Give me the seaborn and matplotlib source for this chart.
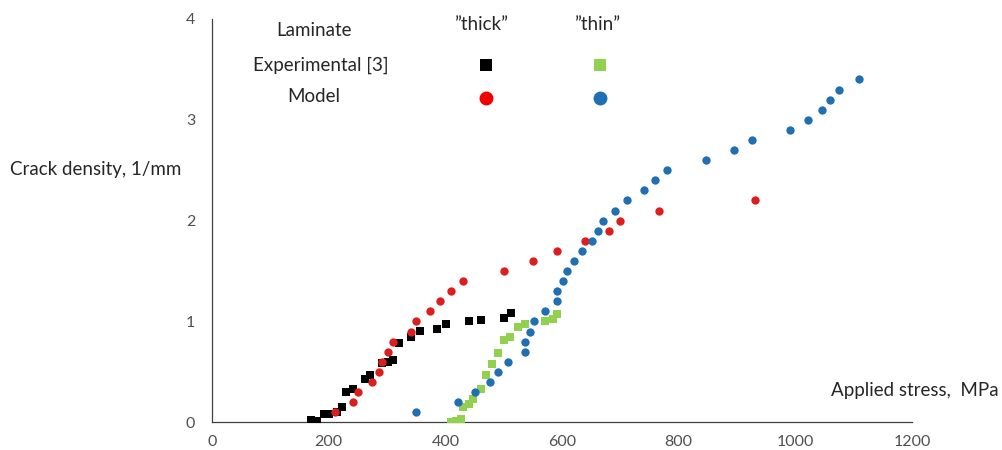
import pandas as pd
import matplotlib.pyplot as plt
import seaborn as sns
from matplotlib.lines import Line2D

# Experimental data, "thick" laminate
exp_thick_stress = [170, 180, 192, 201, 214, 222, 230, 242, 262, 271, 291, 302, 311,
                    321, 341, 356, 386, 401, 441, 461, 501, 512]
exp_thick_density = [0.02, 0.01, 0.08, 0.08, 0.10, 0.15, 0.30, 0.33, 0.43, 0.47, 0.59,
                     0.60, 0.62, 0.79, 0.85, 0.91, 0.93, 0.98, 1.00, 1.01, 1.03, 1.08]

# Experimental data, "thin" laminate
exp_thin_stress = [410, 418, 426, 431, 441, 447, 461, 470, 480, 490, 501, 511, 525,
                   536, 571, 585, 591]
exp_thin_density = [0.00, 0.01, 0.03, 0.15, 0.18, 0.23, 0.33, 0.47, 0.58, 0.69, 0.82,
                    0.85, 0.95, 0.98, 1.00, 1.02, 1.07]

# Model, "thick" laminate
model_thick_stress = [210, 242, 251, 275, 286, 291, 302, 311, 341, 350, 374, 390, 410,
                      430, 500, 551, 591, 640, 680, 699, 766, 930]
model_thick_density = [0.1, 0.2, 0.3, 0.4, 0.5, 0.6, 0.7, 0.8, 0.9, 1.0, 1.1, 1.2, 1.3,
                       1.4, 1.5, 1.6, 1.7, 1.8, 1.9, 2.0, 2.1, 2.2]

# Model, "thin" laminate
model_thin_stress = [350, 421, 450, 476, 490, 508, 536, 537, 545, 552, 571, 591, 591,
                     601, 608, 621, 635, 651, 661, 671, 691, 711, 740, 760, 780, 846,
                     895, 926, 990, 1021, 1045, 1060, 1075, 1109]
model_thin_density = [0.1, 0.2, 0.3, 0.4, 0.5, 0.6, 0.7, 0.8, 0.9, 1.0, 1.1, 1.2, 1.3,
                      1.4, 1.5, 1.6, 1.7, 1.8, 1.9, 2.0, 2.1, 2.2, 2.3, 2.4, 2.5, 2.6,
                      2.7, 2.8, 2.9, 3.0, 3.1, 3.2, 3.3, 3.4]

x_ticks = [0, 200, 400, 600, 800, 1000, 1200]
y_ticks = [0, 1, 2, 3, 4]

sns.set_style('white')
plt.rcParams['font.family'] = ['Lato', 'DejaVu Sans']

fig = plt.figure(figsize=(10.03, 4.5), dpi=100)
ax = fig.add_axes([0.2114, 0.0615, 0.6979, 0.8963])

black = '#000000'
green = '#92d050'
red = '#dc1e1e'
blue = '#1f6fb2'

series = [
    (exp_thick_stress, exp_thick_density, black, 's'),
    (exp_thin_stress, exp_thin_density, green, 's'),
    (model_thick_stress, model_thick_density, red, 'o'),
    (model_thin_stress, model_thin_density, blue, 'o'),
]
for xs, ys, col, mk in series:
    df = pd.DataFrame({'stress': xs, 'density': ys})
    sns.scatterplot(data=df, x='stress', y='density', color=col, marker=mk,
                    s=36, linewidth=0, ax=ax, zorder=3)

ax.set_xlim(0, 1200)
ax.set_ylim(0, 4)
ax.set_xticks(x_ticks)
ax.set_yticks(y_ticks)
for side in ['top', 'right']:
    ax.spines[side].set_visible(False)
for side in ['left', 'bottom']:
    ax.spines[side].set_color('#404040')
    ax.spines[side].set_linewidth(0.9)
ax.tick_params(direction='in', length=3, width=0.8, color='#595959',
               labelcolor='#505050', labelsize=11.5, pad=9)
ax.tick_params(axis='y', pad=12)

ax.set_ylabel('Crack density, 1/mm', rotation=0, ha='left', va='center',
              fontsize=13.5, color='#262626')
ax.yaxis.set_label_coords(-0.2886, 0.628)
ax.set_xlabel('Applied stress,  MPa', ha='right', va='center',
              fontsize=13.5, color='#262626')
ax.xaxis.set_label_coords(1.123, 0.078)

# table-style legend at the top
W, H = 1003, 450
def fx(px):
    return px / W
def fy(py):
    return 1 - py / H

txt = dict(fontsize=13.5, color='#262626', ha='center', va='center')
fig.text(fx(314), fy(30), 'Laminate', **txt)
fig.text(fx(321), fy(65), 'Experimental [3]', **txt)
fig.text(fx(314), fy(97), 'Model', **txt)
fig.text(fx(481), fy(24), '\u201dthick\u201d', **txt)
fig.text(fx(597), fy(24), '\u201dthin\u201d', **txt)

legend_marks = [
    (486, 65, black, 's', 8.5),
    (600, 65, green, 's', 8.5),
    (486, 98, '#f00000', 'o', 10),
    (600, 98, blue, 'o', 10),
]
for px, py, col, mk, ms in legend_marks:
    fig.add_artist(Line2D([fx(px)], [fy(py)], marker=mk, color=col, markersize=ms,
                          markeredgewidth=0, linestyle='none',
                          transform=fig.transFigure))

fig.savefig('out.png', dpi=100)
